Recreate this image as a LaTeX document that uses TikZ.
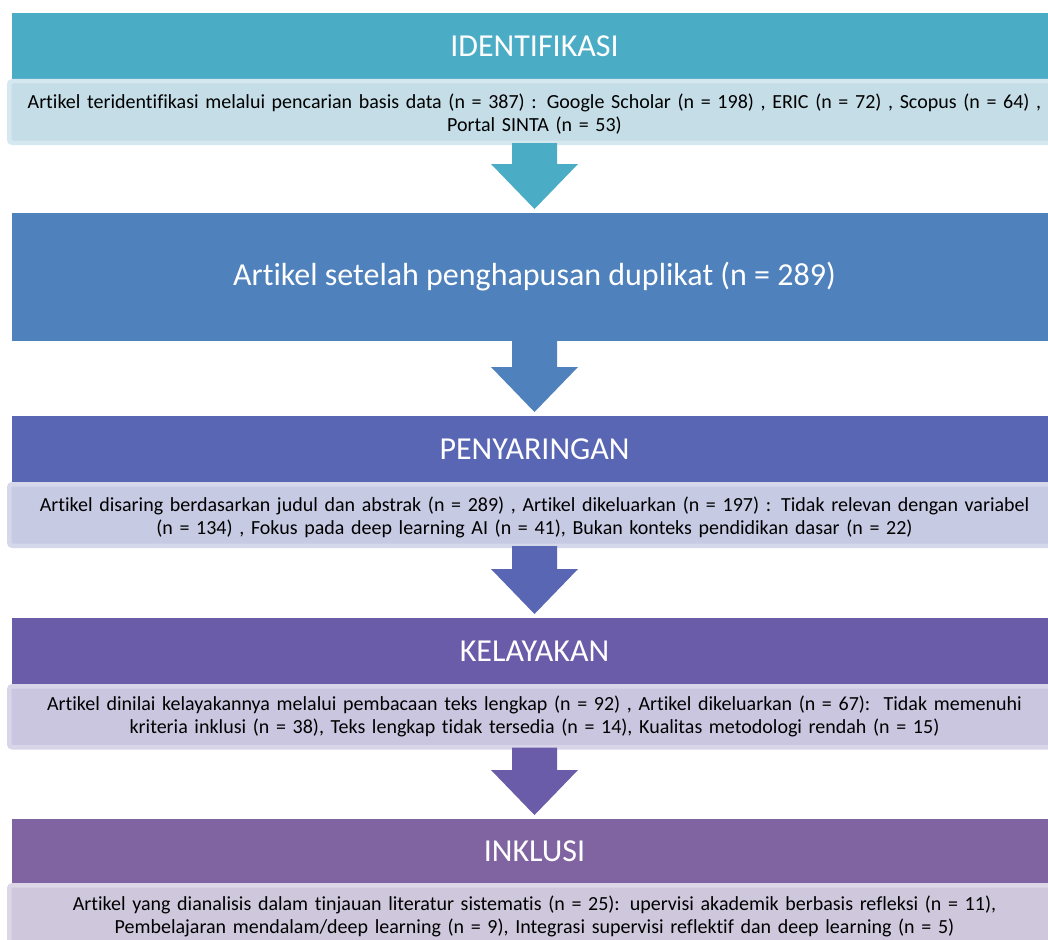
\documentclass[tikz,border=0pt]{standalone}
\usepackage{fontspec}
\setmainfont{Carlito}[Ligatures={NoCommon}]
\usetikzlibrary{calc}
\definecolor{hA}{HTML}{4BACC6}
\definecolor{pA}{HTML}{C4DDE6}
\definecolor{bA}{HTML}{D6E8EF}
\definecolor{hB}{HTML}{4F81BD}
\definecolor{hC}{HTML}{5866B3}
\definecolor{pC}{HTML}{C6CAE2}
\definecolor{bC}{HTML}{D5D8EA}
\definecolor{hD}{HTML}{6A5CA8}
\definecolor{pD}{HTML}{CAC6E0}
\definecolor{bD}{HTML}{D8D5E9}
\definecolor{hE}{HTML}{8064A2}
\definecolor{pE}{HTML}{CFC8DD}
\definecolor{bE}{HTML}{DCD7E6}
\tikzset{
  hdr/.style={rectangle, anchor=north west, minimum width=1045pt, minimum height=66pt,
    inner sep=0pt, outer sep=0pt, text=white, font=\fontsize{32}{36}\selectfont},
  pnl/.style={rectangle, anchor=north west, rounded corners=3pt, line width=4.5pt,
    minimum width=1050.5pt, inner sep=0pt, align=center, text width=1045pt,
    font=\fontsize{20}{23}\selectfont, text=black},
  textdown/.style={execute at begin node={\rule{0pt}{#1}}},
}
\newcommand\blockarrow[3]{%
  \fill[#3] ($(#1.south)+(-22.5,-2)$) -- ($(#1.south)+(22.5,-2)$) --
    ($(#2.north)+(22.5,-49)$) -- ($(#2.north)+(43.5,-49)$) --
    ($(#2.north)+(0,-4)$) -- ($(#2.north)+(-43.5,-49)$) --
    ($(#2.north)+(-22.5,-49)$) -- cycle;}
\begin{document}
\begin{tikzpicture}[x=1pt,y=-1pt]
\clip (0,0) rectangle (1048,939);
\fill[white] (0,0) rectangle (1048,939);
% stage 1
\node[hdr, fill=hA] (h1) at (12,13) {IDENTIFIKASI};
\node[pnl, fill=pA, draw=bA, minimum height=61.5pt, textdown=19.5pt] (p1) at (7,79)
  {Artikel teridentifikasi melalui pencarian basis data (n = 387) : Google Scholar (n = 198) , ERIC (n = 72) , Scopus (n = 64) ,\\Portal SINTA (n = 53)};
% stage 2
\node[hdr, fill=hB, minimum height=128pt, font=\fontsize{32}{38}\selectfont] (b2) at (12,213)
  {Artikel setelah penghapusan duplikat (n = 289)};
% stage 3
\node[hdr, fill=hC] (h3) at (12,416) {PENYARINGAN};
\node[pnl, fill=pC, draw=bC, minimum height=61.5pt, textdown=20pt] (p3) at (7,482)
  {Artikel disaring berdasarkan judul dan abstrak (n = 289) , Artikel dikeluarkan (n = 197) : Tidak relevan dengan variabel\\(n = 134) , Fokus pada deep learning AI (n = 41), Bukan konteks pendidikan dasar (n = 22)};
% stage 4
\node[hdr, fill=hD] (h4) at (12,618) {KELAYAKAN};
\node[pnl, fill=pD, draw=bD, minimum height=61pt] (p4) at (7,684)
  {Artikel dinilai kelayakannya melalui pembacaan teks lengkap (n = 92) , Artikel dikeluarkan (n = 67):\ \ Tidak memenuhi\\kriteria inklusi (n = 38), Teks lengkap tidak tersedia (n = 14), Kualitas metodologi rendah (n = 15)};
% stage 5
\node[hdr, fill=hE, minimum height=64pt] (h5) at (12,819) {INKLUSI};
\node[pnl, fill=pE, draw=bE, minimum height=62pt] (p5) at (7,883)
  {Artikel yang dianalisis dalam tinjauan literatur sistematis (n = 25): upervisi akademik berbasis refleksi (n = 11),\\Pembelajaran mendalam/deep learning (n = 9), Integrasi supervisi reflektif dan deep learning (n = 5)};
% arrows
\blockarrow{p1}{b2}{hA}
\blockarrow{b2}{h3}{hB}
\blockarrow{p3}{h4}{hC}
\blockarrow{p4}{h5}{hD}
\end{tikzpicture}
\end{document}
